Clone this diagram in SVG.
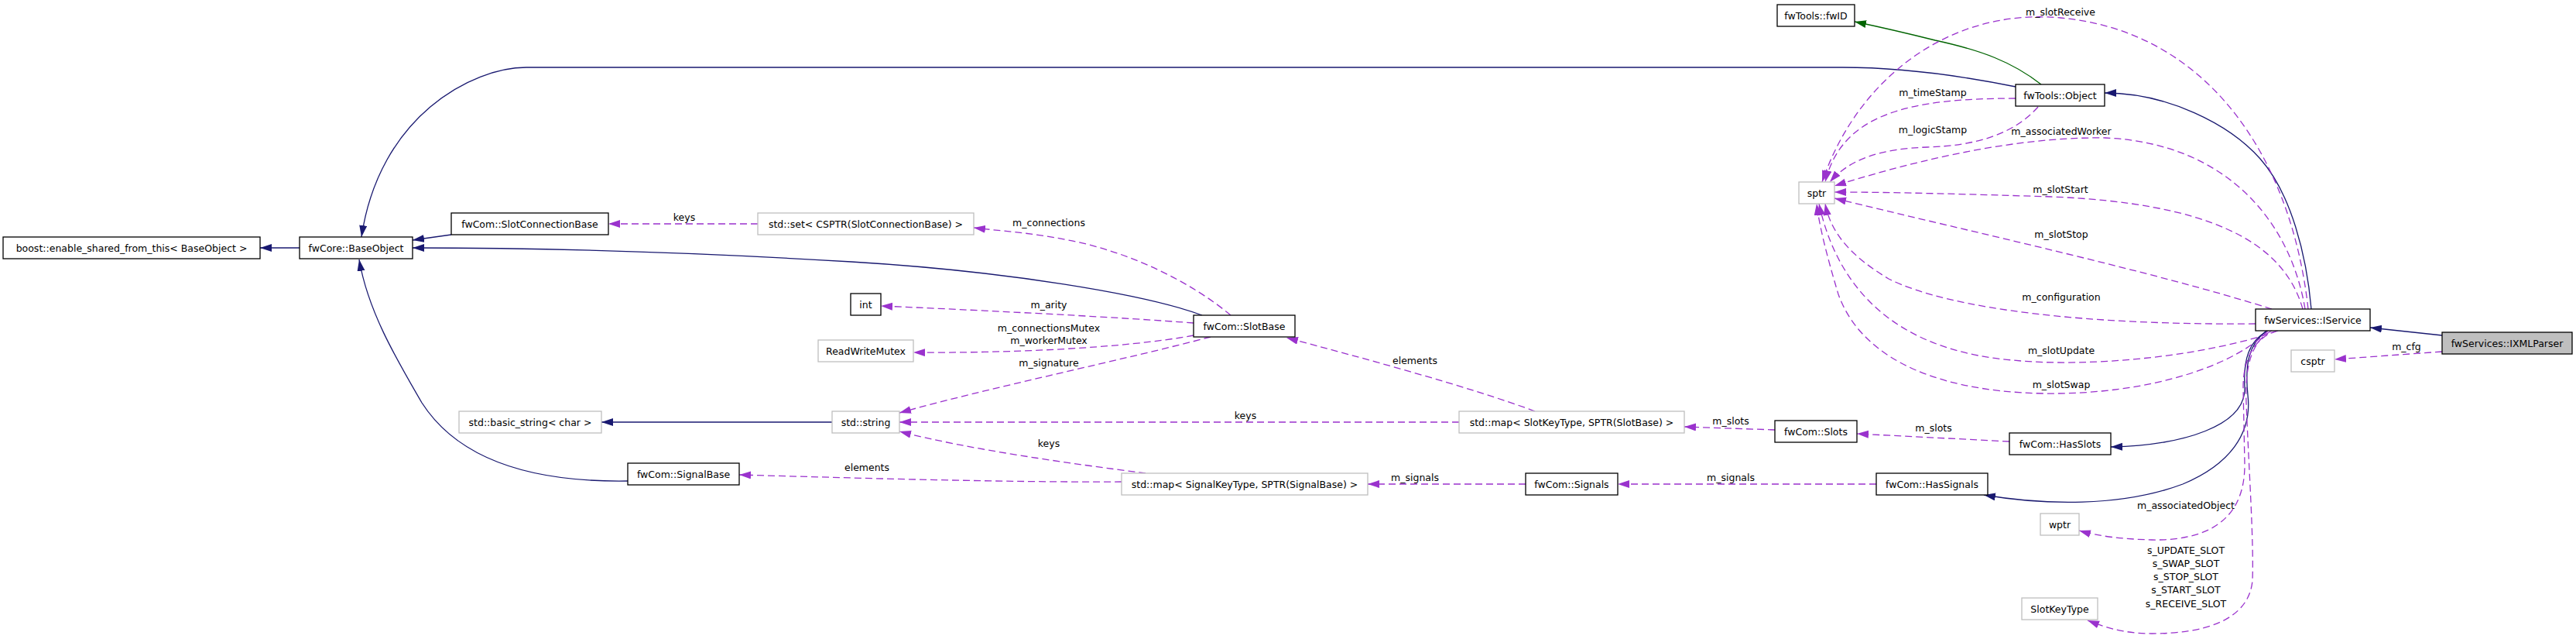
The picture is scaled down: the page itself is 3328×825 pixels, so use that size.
<svg xmlns="http://www.w3.org/2000/svg" width="3328" height="825" viewBox="0 0 3328 825">
<style>
.bg{fill:#fff}
.n rect{fill:#fff;stroke:#000;stroke-width:1.3}
.n.u rect{stroke:#bfbfbf}
.n.cur rect{fill:#bfbfbf}
text{font-family:"DejaVu Sans","Liberation Sans",sans-serif;font-size:12.5px;fill:#000;text-anchor:middle}
.e path{fill:none;stroke-width:1.3}
.inh{stroke:#191970;marker-end:url(#an)}
.pro{stroke:#006400;marker-end:url(#ag)}
.use{stroke:#9a32cd;stroke-dasharray:9,5;marker-end:url(#ap)}
</style>
<defs>
<marker id="an" markerUnits="userSpaceOnUse" markerWidth="16" markerHeight="12" refX="15" refY="5" orient="auto"><path d="M0,0L15,5L0,10z" fill="#191970"/></marker>
<marker id="ap" markerUnits="userSpaceOnUse" markerWidth="16" markerHeight="12" refX="15" refY="5" orient="auto"><path d="M0,0L15,5L0,10z" fill="#9a32cd"/></marker>
<marker id="ag" markerUnits="userSpaceOnUse" markerWidth="16" markerHeight="12" refX="15" refY="5" orient="auto"><path d="M0,0L15,5L0,10z" fill="#006400"/></marker>
</defs>
<rect class="bg" x="0" y="0" width="3328" height="825"/>
<g id="edges" class="e">
<path class="inh" d="M387,320L336,320"/>
<path class="inh" d="M2604,112C2530,97 2450,87 2380,87L680,87C610,87 490,150 467,306"/>
<path class="inh" d="M583,303L533,310"/>
<path class="inh" d="M1553,407C1480,380 1300,350 1100,338C900,326 700,320 533,320"/>
<path class="inh" d="M811,621C680,623 590,590 545,520C510,460 475,400 464,335"/>
<path class="inh" d="M1075,545L777,545"/>
<path class="pro" d="M2637,109C2600,80 2560,65 2500,52C2460,42 2420,33 2396,28"/>
<path class="inh" d="M2986,399C2980,330 2960,250 2920,205C2880,160 2800,120 2719,120"/>
<path class="inh" d="M3155,433L3062,423"/>
<path class="inh" d="M2930,427C2905,440 2898,465 2900,500C2902,550 2820,575 2727,577"/>
<path class="inh" d="M2928,427C2905,445 2900,470 2904,510C2910,560 2880,600 2820,625C2740,655 2640,652 2563,639"/>
<path class="use" d="M979,289L786,289"/>
<path class="use" d="M1590,407C1540,365 1460,325 1380,310C1330,300 1290,298 1258,294"/>
<path class="use" d="M1542,417C1450,410 1300,402 1138,395"/>
<path class="use" d="M1542,433C1450,450 1300,456 1180,455"/>
<path class="use" d="M1564,435C1450,465 1280,500 1162,533"/>
<path class="use" d="M1885,545L1162,545"/>
<path class="use" d="M1983,531C1900,500 1760,462 1662,436"/>
<path class="use" d="M1480,611C1380,598 1250,580 1162,557"/>
<path class="use" d="M1449,622C1300,623 1100,617 955,613"/>
<path class="use" d="M1971,625L1767,625"/>
<path class="use" d="M2424,625L2090,625"/>
<path class="use" d="M2293,555L2176,551"/>
<path class="use" d="M2596,570L2399,560"/>
<path class="use" d="M3155,454L3016,464"/>
<path class="use" d="M2942,427C2915,435 2898,460 2898,500L2900,600C2900,680 2840,698 2780,697C2740,696 2710,692 2686,685"/>
<path class="use" d="M2935,427C2910,440 2900,470 2902,520C2905,600 2912,700 2910,750C2905,800 2850,818 2780,818C2740,818 2715,808 2697,801"/>
<path class="use" d="M2982,399C2960,200 2850,40 2662,23C2520,10 2400,100 2354,235"/>
<path class="use" d="M2604,127C2470,127 2380,145 2358,235"/>
<path class="use" d="M2633,138C2600,175 2550,188 2490,190C2430,192 2390,205 2364,235"/>
<path class="use" d="M2978,399C2960,290 2880,185 2720,178C2590,176 2450,215 2370,240"/>
<path class="use" d="M2975,399C2950,310 2850,262 2650,254C2550,251 2450,248 2370,248"/>
<path class="use" d="M2935,399C2780,350 2550,300 2370,256"/>
<path class="use" d="M2914,418C2700,420 2520,400 2440,360C2390,330 2365,300 2358,263"/>
<path class="use" d="M2943,427C2850,460 2700,475 2600,465C2480,455 2380,400 2350,263"/>
<path class="use" d="M2930,427C2890,470 2780,510 2640,508C2480,505 2400,450 2375,380C2360,330 2350,290 2347,263"/>
<text x="884" y="284.5">keys</text>
<text x="1355" y="291.5">m_connections</text>
<text x="1355" y="397.5">m_arity</text>
<text x="1355" y="427.5">m_connectionsMutex</text>
<text x="1355" y="443.5">m_workerMutex</text>
<text x="1355" y="472.5">m_signature</text>
<text x="1609" y="540.5">keys</text>
<text x="1828" y="469.5">elements</text>
<text x="1355" y="576.5">keys</text>
<text x="1120" y="607.5">elements</text>
<text x="1828" y="620.5">m_signals</text>
<text x="2236" y="620.5">m_signals</text>
<text x="2236" y="547.5">m_slots</text>
<text x="2498" y="556.5">m_slots</text>
<text x="2662" y="19.5">m_slotReceive</text>
<text x="2497" y="123.5">m_timeStamp</text>
<text x="2497" y="171.5">m_logicStamp</text>
<text x="2663" y="173.5">m_associatedWorker</text>
<text x="2662" y="248.5">m_slotStart</text>
<text x="2663" y="306.5">m_slotStop</text>
<text x="2663" y="387.5">m_configuration</text>
<text x="2663" y="456.5">m_slotUpdate</text>
<text x="2663" y="500.5">m_slotSwap</text>
<text x="3109" y="451.5">m_cfg</text>
<text x="2824" y="656.5">m_associatedObject</text>
<text x="2824" y="714.5">s_UPDATE_SLOT</text>
<text x="2824" y="731.5">s_SWAP_SLOT</text>
<text x="2824" y="748.5">s_STOP_SLOT</text>
<text x="2824" y="765.5">s_START_SLOT</text>
<text x="2824" y="783.5">s_RECEIVE_SLOT</text>
</g>
<g id="n_boost" class="n"><rect x="4" y="306" width="332" height="28"/><text x="170" y="324.5">boost::enable_shared_from_this&lt; BaseObject &gt;</text></g>
<g id="n_baseobject" class="n"><rect x="387" y="306" width="146" height="28"/><text x="460" y="324.5">fwCore::BaseObject</text></g>
<g id="n_slotconnectionbase" class="n"><rect x="583" y="275" width="203" height="28"/><text x="684.5" y="293.5">fwCom::SlotConnectionBase</text></g>
<g id="n_set" class="n u"><rect x="979" y="275" width="279" height="28"/><text x="1118.5" y="293.5">std::set&lt; CSPTR(SlotConnectionBase) &gt;</text></g>
<g id="n_int" class="n"><rect x="1099" y="379" width="39" height="28"/><text x="1118.5" y="397.5">int</text></g>
<g id="n_rwmutex" class="n u"><rect x="1057" y="439" width="123" height="28"/><text x="1118.5" y="457.5">ReadWriteMutex</text></g>
<g id="n_slotbase" class="n"><rect x="1542" y="407" width="131" height="28"/><text x="1607.5" y="425.5">fwCom::SlotBase</text></g>
<g id="n_basicstring" class="n u"><rect x="593" y="531" width="184" height="28"/><text x="685" y="549.5">std::basic_string&lt; char &gt;</text></g>
<g id="n_string" class="n u"><rect x="1075" y="531" width="87" height="28"/><text x="1118.5" y="549.5">std::string</text></g>
<g id="n_signalbase" class="n"><rect x="811" y="598" width="144" height="28"/><text x="883" y="616.5">fwCom::SignalBase</text></g>
<g id="n_slotmap" class="n u"><rect x="1885" y="531" width="291" height="28"/><text x="2030.5" y="549.5">std::map&lt; SlotKeyType, SPTR(SlotBase) &gt;</text></g>
<g id="n_signalmap" class="n u"><rect x="1449" y="611" width="318" height="28"/><text x="1608" y="629.5">std::map&lt; SignalKeyType, SPTR(SignalBase) &gt;</text></g>
<g id="n_signals" class="n"><rect x="1971" y="611" width="119" height="28"/><text x="2030.5" y="629.5">fwCom::Signals</text></g>
<g id="n_slots" class="n"><rect x="2293" y="543" width="106" height="28"/><text x="2346" y="561.5">fwCom::Slots</text></g>
<g id="n_hasslots" class="n"><rect x="2596" y="559" width="131" height="28"/><text x="2661.5" y="577.5">fwCom::HasSlots</text></g>
<g id="n_hassignals" class="n"><rect x="2424" y="611" width="144" height="28"/><text x="2496" y="629.5">fwCom::HasSignals</text></g>
<g id="n_wptr" class="n u"><rect x="2636" y="663" width="50" height="28"/><text x="2661" y="681.5">wptr</text></g>
<g id="n_slotkeytype" class="n u"><rect x="2612" y="772" width="98" height="28"/><text x="2661" y="790.5">SlotKeyType</text></g>
<g id="n_sptr" class="n u"><rect x="2324" y="235" width="46" height="28"/><text x="2347" y="253.5">sptr</text></g>
<g id="n_fwid" class="n"><rect x="2296" y="6" width="100" height="28"/><text x="2346" y="24.5">fwTools::fwID</text></g>
<g id="n_object" class="n"><rect x="2604" y="109" width="115" height="28"/><text x="2661.5" y="127.5">fwTools::Object</text></g>
<g id="n_iservice" class="n"><rect x="2914" y="399" width="148" height="28"/><text x="2988" y="417.5">fwServices::IService</text></g>
<g id="n_csptr" class="n u"><rect x="2960" y="452" width="56" height="28"/><text x="2988" y="470.5">csptr</text></g>
<g id="n_ixmlparser" class="n cur"><rect x="3155" y="429" width="168" height="28"/><text x="3239" y="447.5">fwServices::IXMLParser</text></g>
</svg>
